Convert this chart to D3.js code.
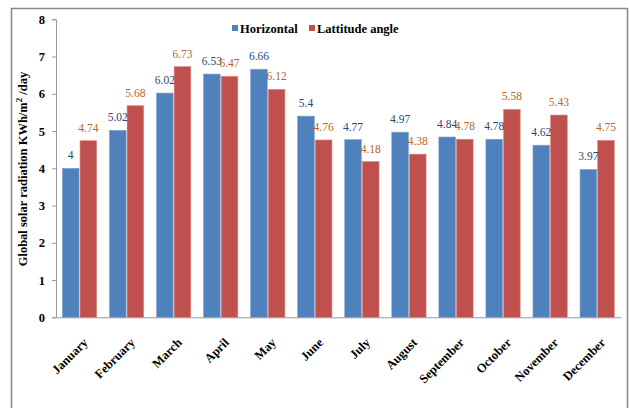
<!DOCTYPE html>
<html><head><meta charset="utf-8">
<script src="https://cdn.jsdelivr.net/npm/d3@7"></script>
<style>body{margin:0;background:#fff}svg{display:block}svg text{font-family:"Liberation Serif","DejaVu Serif",serif}</style>
</head><body>
<svg id="c" width="630" height="408"></svg>
<script>
const months = ["January","February","March","April","May","June","July","August","September","October","November","December"];
const horizontal = [4, 5.02, 6.02, 6.53, 6.66, 5.4, 4.77, 4.97, 4.84, 4.78, 4.62, 3.97];
const latitude = [4.74, 5.68, 6.73, 6.47, 6.12, 4.76, 4.18, 4.38, 4.78, 5.58, 5.43, 4.75];
const seriesNames = ["Horizontal", "Lattitude angle"];
const yTicks = [0,1,2,3,4,5,6,7,8];

(function(){
const svg = d3.select("#c");
const serif = '"Liberation Serif","DejaVu Serif",serif';
const colors = ["#4F81BD", "#C0504D"];
const labelColors = ["#2B4870", "#B5652B"];

// frame
svg.append("rect").attr("x",11.5).attr("y",8.5).attr("width",616).attr("height",410)
  .attr("fill","none").attr("stroke","#888").attr("stroke-width",1.5);

const pLeft = 56, pRight = 620.7, pTop = 19.3, pBottom = 317.3;
const x0 = d3.scaleBand().domain(months).range([pLeft, pRight]).paddingInner(0.25).paddingOuter(0.125);
const x1 = d3.scaleBand().domain(seriesNames).range([0, x0.bandwidth()]);
const y = d3.scaleLinear().domain([0, 8]).range([pBottom, pTop]);

const data = months.map((m,i)=>({m, vals:[horizontal[i], latitude[i]]}));

const g = svg.append("g");
const groups = g.selectAll("g.grp").data(data).join("g").attr("transform", d=>`translate(${x0(d.m)},0)`);
groups.selectAll("rect").data(d=>d.vals.map((v,k)=>({v,k}))).join("rect")
  .attr("x", d=>x1(seriesNames[d.k]) + 0.5)
  .attr("width", x1.bandwidth() - 1)
  .attr("y", d=>y(d.v))
  .attr("height", d=>y(0)-y(d.v))
  .attr("fill", d=>colors[d.k])
  .attr("stroke", d=> d.k===0 ? "#7FA2D2" : "#E08583").attr("stroke-width",0.6);

groups.selectAll("text").data(d=>d.vals.map((v,k)=>({v,k}))).join("text")
  .attr("x", d=>x1(seriesNames[d.k]) + x1.bandwidth()/2)
  .attr("y", d=>y(d.v) - 9)
  .attr("text-anchor","middle")
  .style("font-family", serif).attr("font-size", 11.5)
  .attr("fill", d=>labelColors[d.k])
  .text(d=>String(d.v));

// y axis
const yAxis = d3.axisLeft(y).tickValues(yTicks).tickSize(4).tickPadding(7).tickFormat(d3.format("d"));
const ya = svg.append("g").attr("transform",`translate(${pLeft},0)`).call(yAxis);
ya.select(".domain").attr("stroke","#999");
ya.selectAll(".tick line").attr("stroke","#999");
ya.selectAll("text").style("font-family",serif).attr("font-weight","bold").attr("font-size",12.5).attr("fill","#000");

// x axis
const xAxis = d3.axisBottom(x0).tickSize(0).tickPadding(0);
const xa = svg.append("g").attr("transform",`translate(0,${pBottom})`).call(xAxis);
xa.select(".domain").attr("stroke","#999");
xa.selectAll("text")
  .style("font-family",serif).attr("font-weight","bold").attr("font-size",12.5).attr("fill","#000")
  .attr("text-anchor","end")
  .attr("dy",null).attr("y",null)
  .attr("transform","translate(9,26) rotate(-45)");

// y title
svg.append("text")
  .attr("transform","translate(27,169) rotate(-90)")
  .attr("text-anchor","middle")
  .style("font-family",serif).attr("font-weight","bold").attr("font-size",12.5)
  .attr("fill","#000")
  .html('Global solar radiation KWh/m<tspan dy="-5" font-size="9">2</tspan><tspan dy="5"> /day</tspan>');

// legend
const legX = [232, 309];
seriesNames.forEach((s,k)=>{
  svg.append("rect").attr("x",legX[k]).attr("y",25).attr("width",6).attr("height",6).attr("fill",colors[k]);
  svg.append("text").attr("x",legX[k]+8).attr("y",32.5)
    .style("font-family",serif).attr("font-weight","bold").attr("font-size",12.5).attr("fill","#000").text(s);
});
})();
</script>
</body></html>
